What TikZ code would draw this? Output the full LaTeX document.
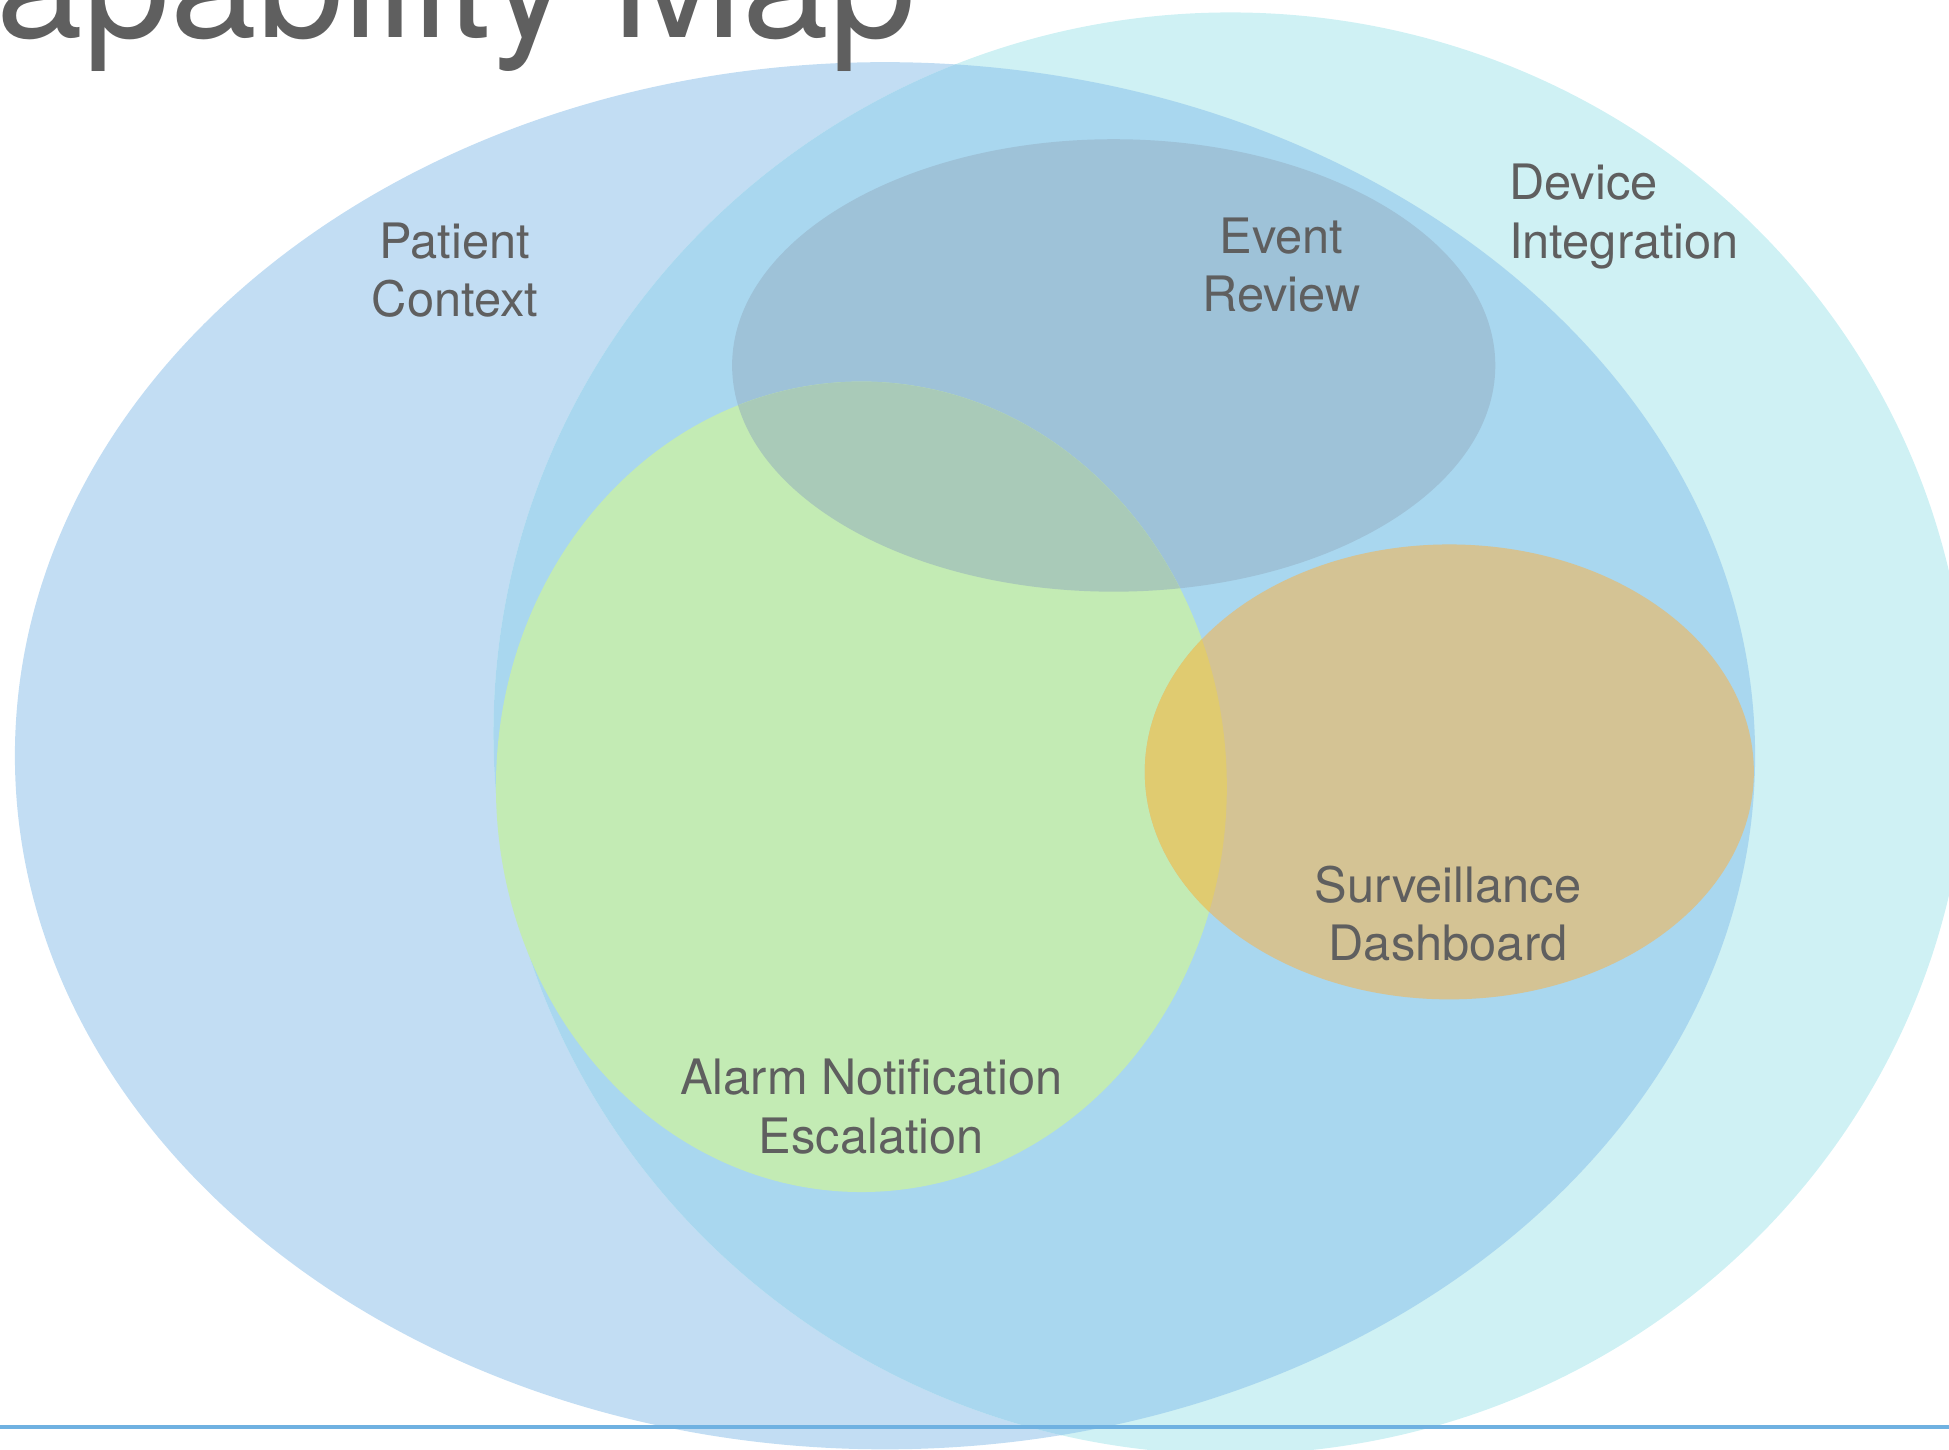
\documentclass[tikz,border=0pt]{standalone}
\usepackage{fontspec}
\setmainfont{TeX Gyre Heros}
\definecolor{patientc}{HTML}{C2DDF3}
\definecolor{devicec}{HTML}{CFF1F4}
\definecolor{overlapc}{HTML}{A9D7EF}
\definecolor{eventc}{HTML}{9EC2D8}
\definecolor{greenc}{HTML}{C3EBB4}
\definecolor{evgreenc}{HTML}{A9CAB8}
\definecolor{tanc}{HTML}{D4C394}
\definecolor{tangreenc}{HTML}{E0CB70}
\definecolor{linec}{HTML}{6FB1E1}
\definecolor{textc}{HTML}{5F5F5F}
\begin{document}
\begin{tikzpicture}[x=1.2430pt,y=-1.2430pt,
  lbl/.style={font=\fontsize{48.8}{58.5}\selectfont, text=textc, inner sep=0pt, align=center},
  lbll/.style={lbl, align=left}]
\useasboundingbox (0,0) rectangle (1568,1166);
\def\patientpath{(712,608) ellipse [x radius=700, y radius=558]}
\def\devicepath{(990,590) ellipse [x radius=593, y radius=580]}
\def\eventpath{(896,294) ellipse [x radius=307, y radius=182]}
\def\greenpath{(693,633) ellipse [x radius=294, y radius=326]}
\def\tanpath{(1166,621) ellipse [x radius=245, y radius=183]}
\begin{scope}
  \clip (0,0) rectangle (1568,1166);
  \fill[patientc] \patientpath;
  \fill[devicec] \devicepath;
  \begin{scope}
    \clip \patientpath;
    \fill[overlapc] \devicepath;
  \end{scope}
  \fill[eventc] \eventpath;
  \fill[greenc] \greenpath;
  \begin{scope}
    \clip \greenpath;
    \fill[evgreenc] \eventpath;
  \end{scope}
  \fill[tanc] \tanpath;
  \begin{scope}
    \clip \greenpath;
    \fill[tangreenc] \tanpath;
  \end{scope}
  \draw[linec, line width=4pt] (0,1148) -- (1568,1148);
  \node[anchor=base east, inner sep=0pt, font=\fontsize{156}{156}\selectfont, text=textc] (title) at (737,30) {Capability Map};
\end{scope}
\node[lbl] (patient) at (366,222) {\strut Patient\\\strut Context};
\node[lbl] (event) at (1031,218) {\strut Event\\\strut Review};
\node[lbll, anchor=west] (device) at (1214,175) {\strut Device\\\strut Integration};
\node[lbl] (surv) at (1165,740) {\strut Surveillance\\\strut Dashboard};
\node[lbl] (alarm) at (701,895) {\strut Alarm Notification\\\strut Escalation};
\end{tikzpicture}
\end{document}
